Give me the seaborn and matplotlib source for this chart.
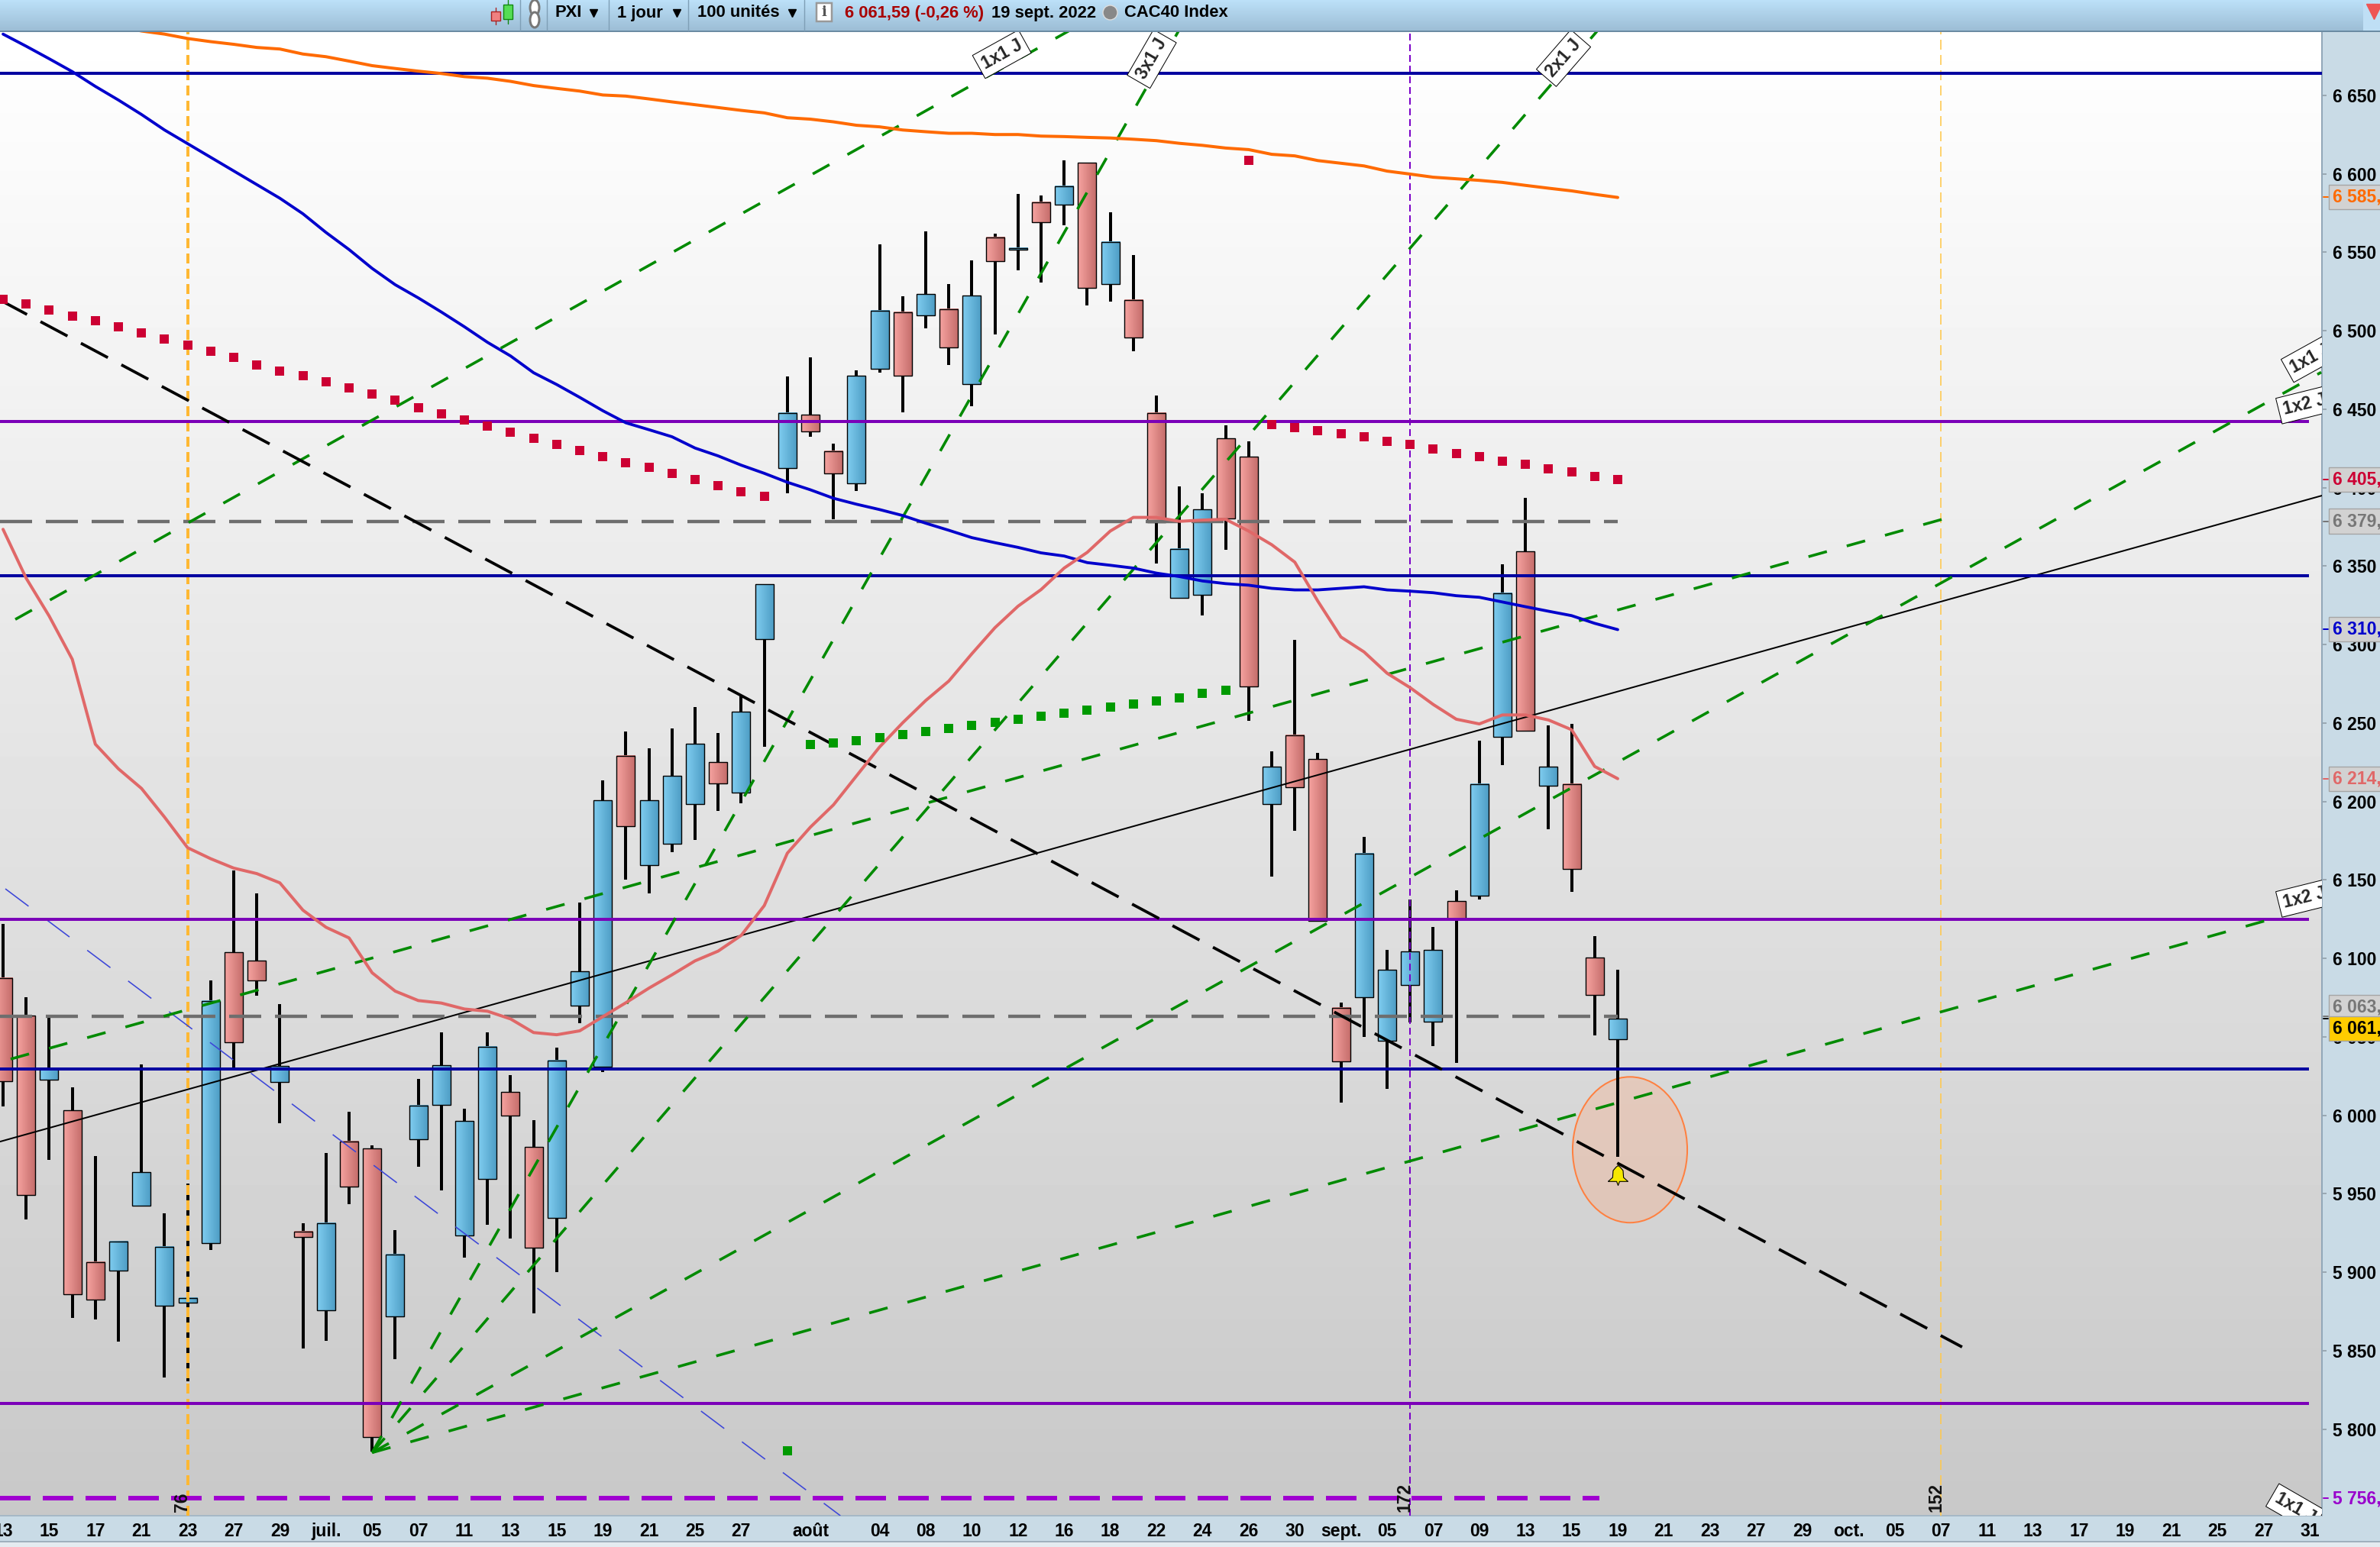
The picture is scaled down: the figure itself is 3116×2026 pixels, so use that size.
import numpy as np
import pandas as pd
import matplotlib
matplotlib.use('Agg')
import matplotlib.pyplot as plt
from matplotlib.colors import LinearSegmentedColormap
from matplotlib.patches import Ellipse, Rectangle
from matplotlib.path import Path
import seaborn as sns

# candles, 13 june -> 19 sept 2022, one row per trading day
open_ = [6087.5, 6063.3, 6022.5, 6003, 5906.5, 5900.8, 5942.6, 5878.5, 5880.4, 5918.4,
         6104.1, 6098.4, 6021.4, 5926, 5875.5, 5983.4, 5978.8, 5871.7, 5984.5, 6006.8,
         5923.3, 5959.2, 6014.7, 5979.6, 5934.7, 6070.1, 6031, 6228.8, 6159.6, 6173.2,
         6198.5, 6224.9, 6205.5, 6303.5, 6412.5, 6446.6, 6423.2, 6402.9, 6475.8, 6511.9,
         6509.9, 6513.9, 6466.2, 6559.5, 6551.8, 6581.9, 6580.1, 6607.2, 6529.5, 6519.6,
         6447.6, 6329.9, 6331.8, 6431.2, 6419.5, 6198.5, 6242.3, 6226.9, 6068.2, 6075,
         6047.7, 6082.8, 6059.5, 6136.3, 6140.1, 6241.3, 6359.2, 6210.2, 6211.2, 6100.3,
         6048.5]
high = [6122, 6075, 6062, 6018, 5974, 5919.3, 6032.3, 5937.7, 5956.5, 6085.9,
        6156, 6141.3, 6070.9, 5931, 5975.8, 6002, 5980.7, 5927, 6023.3, 6052.7,
        6004, 6052.7, 6025.5, 5997, 6043.2, 6135.6, 6213.4, 6244.5, 6233.8, 6246.5,
        6260.1, 6243.6, 6266.9, 6338.5, 6471, 6483, 6428.2, 6474.9, 6555, 6521.8,
        6563.5, 6529.7, 6544.9, 6561.8, 6587, 6586.1, 6608.5, 6607.2, 6575.4, 6548.1,
        6458.7, 6400.9, 6396.4, 6439.9, 6429.4, 6231.9, 6302.8, 6230.9, 6072, 6177.3,
        6105.4, 6137.5, 6120, 6143.3, 6238.7, 6351.2, 6393.4, 6248.4, 6249.3, 6114,
        6092.5]
low = [6005.4, 5933.6, 5971.7, 5871, 5869.8, 5855.6, 5941.8, 5833.1, 5830.4, 5914.1,
       6030, 6076.4, 5994.8, 5851.6, 5856.2, 5943.2, 5785.5, 5844.5, 5967.1, 5951.9,
       5909.2, 5930.4, 5921.4, 5873.9, 5900, 6058.7, 6027.4, 6150.1, 6141.4, 6167.7,
       6175.4, 6193.9, 6198.8, 6235, 6396.6, 6432.4, 6379.8, 6397.6, 6473.4, 6448,
       6501.4, 6478.1, 6451.8, 6497.5, 6538.7, 6530.7, 6567, 6516.3, 6518.3, 6487,
       6351.7, 6329.4, 6318.7, 6360.6, 6251.4, 6152.3, 6181.5, 6124, 6008.2, 6050.1,
       6016.9, 6059, 6044.2, 6033.2, 6137.7, 6223.2, 6244.4, 6182.4, 6142.6, 6051,
       5973.3]
close = [6021.7, 5949.4, 6029.6, 5886, 5882.3, 5919.3, 5964, 5916.3, 5883.4, 6073,
         6046.7, 6085.9, 6031.2, 5922.3, 5931, 5954.3, 5795, 5911.4, 6006, 6032,
         5996.2, 6043.7, 6000, 5915.5, 6035, 6091.6, 6200.6, 6184, 6200.6, 6216.2,
         6236.6, 6211.3, 6257, 6338.5, 6447.6, 6436, 6408.8, 6471.1, 6512.9, 6471.1,
         6523.5, 6489.5, 6522.5, 6544.1, 6552.8, 6569.2, 6591.8, 6527.5, 6556.6, 6495.5,
         6377.8, 6361.1, 6386.2, 6380.5, 6273.5, 6222, 6209.2, 6124, 6034.1, 6166.5,
         6092.5, 6104.2, 6105.2, 6125, 6211.2, 6332.8, 6245.2, 6222, 6156.8, 6076.9,
         6061.59]

# moving averages
orange_start = 5
orange_ma = [6694, 6691, 6689, 6686.2, 6684.2, 6682.5, 6680.5, 6679.5, 6676.3, 6674.6,
             6671.8, 6668.9, 6667.1, 6665.4, 6663.9, 6661.9, 6660.9, 6658.9, 6656.2, 6654.4,
             6652.7, 6650.2, 6649.5, 6647.7, 6645.8, 6644, 6642.2, 6640.4, 6638.8, 6635.7,
             6634.8, 6633.1, 6630.9, 6629.9, 6627.9, 6626.8, 6625.8, 6625.8, 6625, 6625,
             6624, 6623.7, 6623.2, 6622.8, 6622, 6621.1, 6619.4, 6618.1, 6616.4, 6615.4,
             6612.4, 6611.4, 6608.4, 6606.7, 6605, 6601.7, 6599.8, 6597.8, 6596.8, 6595.8,
             6594.5, 6592.6, 6590.8, 6589.1, 6586.9, 6584.9]
blue_ma = [6689, 6681.3, 6673.3, 6665.1, 6655.7, 6647, 6637.8, 6627.9, 6619.2, 6610.5,
           6601.8, 6593.1, 6584.4, 6574.5, 6562.6, 6551.7, 6539.7, 6529.3, 6520.9, 6511.9,
           6502.5, 6492.6, 6483.9, 6473.2, 6465.7, 6457.5, 6449, 6441.3, 6436.9, 6432.4,
           6425.2, 6420.2, 6414.3, 6409.1, 6403.4, 6398.6, 6393.2, 6389.4, 6386, 6382.2,
           6377.3, 6372.8, 6368.1, 6364.9, 6361.9, 6358.4, 6356.4, 6352.2, 6350.5, 6348.7,
           6345.5, 6343.3, 6340.5, 6338.8, 6337.8, 6335.8, 6334.8, 6334.8, 6335.8, 6336.8,
           6334.8, 6334, 6333, 6331.1, 6330.1, 6327.1, 6324.1, 6321.2, 6318.4, 6313.5,
           6309.5]
pink_ma = [6373.4, 6342.3, 6318.1, 6290.6, 6236.5, 6220.8, 6208.3, 6190, 6170.5, 6163.5,
           6157.5, 6154, 6148.1, 6130.7, 6119.8, 6113, 6090.8, 6079.1, 6073.1, 6071.5,
           6067.7, 6066.3, 6061.4, 6052.7, 6051.3, 6053.8, 6062.8, 6071.7, 6081, 6089.5,
           6098.4, 6104.6, 6114.6, 6133.6, 6167, 6183.6, 6197.8, 6216.3, 6234.7, 6250.1,
           6264.3, 6276.7, 6294.1, 6310.7, 6324.4, 6335, 6348.7, 6358.7, 6372.3, 6381,
           6381, 6378.5, 6379.3, 6379.8, 6372.3, 6363.6, 6352.5, 6327.6, 6304.8, 6295.3,
           6281.7, 6272.5, 6261.8, 6252.4, 6249.4, 6255.1, 6255.1, 6251.9, 6245.7, 6222.3,
           6214.5]

# stop dots
red_dots_a = [6519.9, 6517.1, 6513.2, 6509.2, 6506.2, 6502.5, 6498.5, 6494.6, 6490.8, 6486.9,
              6483.1, 6478.2, 6474.2, 6471.2, 6467.5, 6463.5, 6459.5, 6455.8, 6450.8, 6446.9,
              6442.9, 6439.2, 6435.2, 6431.5, 6427.5, 6423.6, 6419.6, 6415.8, 6413.1, 6409.1,
              6405.1, 6401.1, 6397.4, 6394.4]
red_dots_b_start = 54
red_dots_b = [6608.5, 6440.1, 6438.1, 6436.1, 6434.1, 6432.4, 6429.4, 6427.4, 6424.7, 6421.7,
              6419.5, 6416.8, 6414.8, 6411.8, 6410, 6407, 6405.1]
green_dots_start = 34
green_dots = [5786.3, 6236.2, 6237.2, 6238.5, 6240.5, 6242.5, 6244.4, 6246.4, 6248.4, 6250.4,
              6252.4, 6254.1, 6256.1, 6258.1, 6260.1, 6262.1, 6264.1, 6265.8, 6268.8, 6270.8]

# horizontals
blue_levels = [6664, 6344, 6029.6]
purple_levels = [6442, 6125, 5816.5]
grey_levels = [6378.5, 6063]
support_level = 5756

# trend lines, (index, price) at both ends
fan_lines = [[16, 51, 5785, 6692], [16, 69.1, 5785, 6690.8], [16, 100.5, 5785, 6473.5],
             [16, 99.3, 5785, 6129], [0.53, 46.2, 6316, 6691], [0.33, 84.07, 6035.8, 6379.8]]
black_dash = [-0.13, 84.93, 6519.5, 5852.3]
black_solid = [-0.13, 100.53, 5983.2, 6394.9]
blue_dash = [0.1, 36.3, 6144.3, 5744.8]

# axis text
day_pos = [0, 2, 4, 6, 8, 10, 12, 14, 16, 18, 20, 22, 24, 26, 28, 30, 32, 35, 38, 40, 42, 44, 46, 48,
           50, 52, 54, 56, 58, 60, 62, 64, 66, 68, 70, 72, 74, 76, 78, 80, 82, 84, 86, 88, 90, 92,
           94, 96, 98, 100]
day_txt = ['13', '15', '17', '21', '23', '27', '29', 'juil.', '05', '07', '11', '13', '15', '19', '21',
           '25', '27', 'août', '04', '08', '10', '12', '16', '18', '22', '24', '26', '30', 'sept.',
           '05', '07', '09', '13', '15', '19', '21', '23', '27', '29', 'oct.', '05', '07', '11', '13',
           '17', '19', '21', '25', '27', '31']
price_ticks = [5800, 5850, 5900, 5950, 6000, 6050, 6100, 6150, 6200, 6250, 6300, 6350, 6400, 6450,
               6500, 6550, 6600, 6650]
value_txt = ['6 585,8', '6 405,6', '6 379,3', '6 310,6', '6 214,7', '6 063,8', '6 061,59', '5 756,2']
value_tick = [6585, 6405.1, 6378.6, 6309.7, 6214.3, 6063, 6061.6, 5756]
value_y = [6585, 6405.1, 6378.6, 6309.7, 6214.3, 6068.9, 6055.2, 5755.5]
value_col = ['#ff6a00', '#cc0033', '#777777', '#0000cc', '#e06868', '#777777', '#000000', '#9900cc']
gann_txt = ['1x1 J', '3x1 J', '2x1 J', '1x1 J', '1x2 J', '1x2 J', '1x1 J']
gann_i = [43.3, 49.8, 67.65, 100.03, 99.77, 99.77, 99.37]
gann_p = [6676.2, 6673.2, 6673.7, 6482.5, 6452.8, 6138.4, 5749.6]
gann_rot = [29, 60, 49, 29, 14, 14, -30]
cycle_txt = ['76', '172', '152']
cycle_i = [7.75, 60.76, 83.8]
cycle_p = [5753.5, 5756.4, 5756.4]

W, H = 3116, 2026
PX = 0.72  # one image pixel in points at dpi 100
FS = 16.5

sns.set_theme(style='white', rc={'lines.scale_dashes': False, 'axes.linewidth': 2 * PX})
plt.rcParams['font.family'] = ['Liberation Sans', 'DejaVu Sans']
plt.rcParams['font.weight'] = 'bold'

strip = '#c9dbe6'
fig = plt.figure(figsize=(W / 100, H / 100), dpi=100, facecolor=strip)


def box(x0, y0, x1, y1):
    return [x0 / W, 1 - y1 / H, (x1 - x0) / W, (y1 - y0) / H]


ax = fig.add_axes(box(0, 42, 3040, 1985), zorder=1)
xlim = (-0.1325, 100.53)
ylim = (5744.8, 6690.3)
ax.imshow(np.linspace(255, 200, 256).reshape(-1, 1), cmap='gray', vmin=0, vmax=255, aspect='auto',
          extent=(xlim[0], xlim[1], ylim[0], ylim[1]), origin='upper', zorder=0)

ax.add_patch(Ellipse((70.53, 5978), 4.97, 92.9, facecolor='#ffa87d', alpha=0.3, edgecolor='none', zorder=1))
ax.add_patch(Ellipse((70.53, 5978), 4.97, 92.9, fill=False, edgecolor='#ff8040', lw=2 * PX, zorder=1))

# candles
days = np.arange(len(close))
ax.vlines(days, low, high, colors='black', lw=4 * PX, zorder=2)
red_cm = LinearSegmentedColormap.from_list('r', ['#f6a3a0', '#c46c6a'])
blue_cm = LinearSegmentedColormap.from_list('b', ['#7fcdf0', '#4d9cc4'])
grad = np.linspace(0, 1, 32).reshape(1, -1)
for d, o, c in zip(days, open_, close):
    ax.imshow(grad, cmap=blue_cm if c >= o else red_cm, aspect='auto', interpolation='bilinear',
              extent=(d - 0.4, d + 0.4, min(o, c), max(o, c)), zorder=3)
ax.bar(days, np.abs(np.array(close) - np.array(open_)), bottom=np.minimum(open_, close), width=0.8,
       fill=False, edgecolor='black', linewidth=1.4 * PX, zorder=3.5)

# vertical cycle lines
ax.axvline(8, color='#ffb833', lw=4 * PX, dashes=(13 * PX, 7 * PX), dash_capstyle='butt', zorder=4)
ax.axvline(84, color='#ffc84d', lw=1.6 * PX, dashes=(13 * PX, 7 * PX), dash_capstyle='butt', zorder=4)
ax.axvline(61, color='#7b00c8', lw=2 * PX, dashes=(9 * PX, 5 * PX), dash_capstyle='butt', zorder=4)

# fans and trends
for x0, x1, p0, p1 in fan_lines:
    sns.lineplot(x=[x0, x1], y=[p0, p1], ax=ax, color='#008a00', lw=3.6 * PX, dashes=(25 * PX, 27 * PX),
                 dash_capstyle='butt', estimator=None, sort=False, zorder=6)
sns.lineplot(x=black_dash[:2], y=black_dash[2:], ax=ax, color='black', lw=3.8 * PX, dashes=(40 * PX, 20 * PX),
             dash_capstyle='butt', estimator=None, sort=False, zorder=6)
sns.lineplot(x=black_solid[:2], y=black_solid[2:], ax=ax, color='black', lw=2 * PX,
             estimator=None, sort=False, zorder=5)
sns.lineplot(x=blue_dash[:2], y=blue_dash[2:], ax=ax, color='#3c46d8', lw=1.6 * PX, dashes=(38 * PX, 29 * PX),
             dash_capstyle='butt', estimator=None, sort=False, zorder=5)

# levels
ax.hlines(blue_levels[0], xlim[0], xlim[1], color='#0000a0', lw=4 * PX, zorder=5)
ax.hlines(blue_levels[1:], xlim[0], 99.97, color='#0000a0', lw=4 * PX, zorder=5)
ax.hlines(purple_levels, xlim[0], 99.97, color='#7b00b8', lw=4 * PX, zorder=5)
for lev in grey_levels:
    sns.lineplot(x=[xlim[0], 70], y=[lev, lev], ax=ax, color='#6e6e6e', lw=4.4 * PX, dashes=(42 * PX, 18 * PX),
                 dash_capstyle='butt', estimator=None, sort=False, zorder=5)
sns.lineplot(x=[xlim[0], 69.2], y=[support_level, support_level], ax=ax, color='#a000d0', lw=6 * PX,
             dashes=(40 * PX, 16 * PX), dash_capstyle='butt', estimator=None, sort=False, zorder=5)

# moving averages
ma = pd.DataFrame({'i': days, 'blue': blue_ma, 'pink': pink_ma})
sns.lineplot(data=ma, x='i', y='blue', ax=ax, color='#0000cc', lw=3.8 * PX, estimator=None, zorder=7)
sns.lineplot(data=ma, x='i', y='pink', ax=ax, color='#e06868', lw=4 * PX, estimator=None, zorder=7)
sns.lineplot(x=np.arange(len(orange_ma)) + orange_start, y=orange_ma, ax=ax, color='#ff6a00', lw=4 * PX,
             estimator=None, zorder=7)

# dots
dot = (12 * PX) ** 2
sns.scatterplot(x=np.arange(len(red_dots_a)), y=red_dots_a, ax=ax, marker='s', s=dot, color='#cc0033',
                linewidth=0, zorder=8)
sns.scatterplot(x=np.arange(len(red_dots_b)) + red_dots_b_start, y=red_dots_b, ax=ax, marker='s', s=dot,
                color='#cc0033', linewidth=0, zorder=8)
sns.scatterplot(x=np.arange(len(green_dots)) + green_dots_start, y=green_dots, ax=ax, marker='s', s=dot,
                color='#009a00', linewidth=0, zorder=8)

# bell on the last candle
bell = Path([(-1, -0.6), (-0.55, -0.2), (-0.5, 0.5), (-0.2, 0.85), (0, 1), (0.2, 0.85), (0.5, 0.5),
             (0.55, -0.2), (1, -0.6), (0.15, -0.6), (0, -1), (-0.15, -0.6), (-1, -0.6)])
ax.plot([70], [5962], marker=bell, ms=26 * PX, mfc='#f6e800', mec='black', mew=0.8, ls='none', zorder=9)

# rotated gann labels
for t, i, p, r in zip(gann_txt, gann_i, gann_p, gann_rot):
    ax.text(i, p, t, rotation=r, rotation_mode='anchor', ha='center', va='center', fontsize=FS, zorder=10,
            clip_on=True, bbox=dict(boxstyle='square,pad=0.25', fc='white', ec='black', lw=1 * PX))
for t, i, p in zip(cycle_txt, cycle_i, cycle_p):
    ax.text(i, p, t, rotation=90, ha='center', va='center', fontsize=FS, color='#111111', zorder=10)

ax.set_xlim(xlim)
ax.set_ylim(ylim)
ax.set_xlabel('')
ax.set_ylabel('')
ax.set_xticks(day_pos, day_txt)
ax.yaxis.tick_right()
ax.set_yticks(price_ticks, [f'{v // 1000} {v % 1000:03d}' for v in price_ticks])
ax.tick_params(axis='y', length=6 * PX, width=2 * PX, color='#9aa8b2', pad=8 * PX, labelsize=FS, labelcolor='black')
ax.tick_params(axis='x', length=5 * PX, width=2 * PX, color='#9aa8b2', pad=4 * PX, labelsize=FS, labelcolor='black')
for s in ['left', 'top']:
    ax.spines[s].set_visible(False)
ax.spines['right'].set_color('#92a7b8')
ax.spines['bottom'].set_color('#a6b8c6')

# value flags on the price scale
trans = ax.get_yaxis_transform()
for t, v, y, col in zip(value_txt, value_tick, value_y, value_col):
    ax.plot([1.0007, 1.0026], [v, v], transform=trans, color=col, lw=2 * PX, clip_on=False, zorder=11)
    if t.startswith('5'):
        ax.text(1.0046, y, t, transform=trans, color=col, fontsize=FS, va='center', clip_on=False, zorder=11)
        continue
    face = '#ffcc00' if col == '#000000' else '#d2d2d2'
    ax.text(1.0046, y, t + '     ', transform=trans, color=col, fontsize=FS, va='center', clip_on=False, zorder=11,
            bbox=dict(boxstyle='square,pad=0.2', fc=face, ec='#a5a5a5', lw=1.4 * PX))

# toolbar
bar = fig.add_axes(box(0, 0, W, 42), zorder=3)
bar.set_xlim(0, W)
bar.set_ylim(42, 0)
bar.axis('off')
bar_cm = LinearSegmentedColormap.from_list('t', ['#bce0f8', '#9dbed6'])
bar.imshow(np.linspace(0, 1, 40).reshape(-1, 1), cmap=bar_cm, aspect='auto', extent=(0, W, 40, 0), zorder=0)
bar.add_patch(Rectangle((3094, 0), 22, 40, fc='#bfdff5', ec='none', zorder=1))
bar.add_patch(Rectangle((0, 40), W, 2, fc='#6b8ba3', ec='none', zorder=1))
for x in [681, 716, 797, 901, 1053]:
    bar.plot([x, x], [0, 40], color='#7f9fb6', lw=1.4 * PX, zorder=1)
# candle and link icons
bar.plot([649, 649], [10, 32], color='#aa2222', lw=1.4 * PX, zorder=2)
bar.add_patch(Rectangle((643, 15), 12, 12, fc='#f08080', ec='#aa2222', lw=1.4 * PX, zorder=3))
bar.plot([665, 665], [0, 31], color='#118811', lw=1.4 * PX, zorder=2)
bar.add_patch(Rectangle((659, 6), 12, 19, fc='#55dd55', ec='#118811', lw=1.4 * PX, zorder=3))
bar.add_patch(Ellipse((700, 10), 12, 20, fc='white', ec='#777777', lw=3 * PX, zorder=3))
bar.add_patch(Ellipse((700, 26), 12, 20, fc='white', ec='#777777', lw=3 * PX, zorder=3))
bar.add_patch(Rectangle((1069, 4), 20, 24, fc='white', ec='#999999', lw=2.5 * PX, zorder=3))
bar.text(1079, 16, 'i', ha='center', va='center', fontsize=13, family='DejaVu Serif', color='#555555', zorder=4)
for x, t in [(727, 'PXI'), (808, '1 jour'), (913, '100 unités'), (1298, '19 sept. 2022'), (1472, 'CAC40 Index')]:
    bar.text(x, 17, t, fontsize=15.8, va='center', color='black', zorder=4)
bar.text(1106, 17, '6 061,59 (-0,26 %)', fontsize=15.8, va='center', color='#a80000', zorder=4)
for x in [777, 886, 1037]:
    bar.plot([x], [17], marker='v', ms=10 * PX, color='black', ls='none', zorder=4)
bar.plot([1453], [16], marker='o', ms=19 * PX, mfc='#888888', mec='#dddddd', ls='none', zorder=4)
bar.plot([3108], [15], marker='v', ms=20 * PX, color='#ee5555', ls='none', zorder=4)

# band under the date strip
fig.add_artist(Rectangle((0, 0), 1, 7 / H, transform=fig.transFigure, fc='#e4ebf0', ec='none'))
fig.add_artist(Rectangle((0, 6 / H), 1, 2 / H, transform=fig.transFigure, fc='#9fb0bd', ec='none'))

fig.savefig('out.png', dpi=100, facecolor=fig.get_facecolor())
